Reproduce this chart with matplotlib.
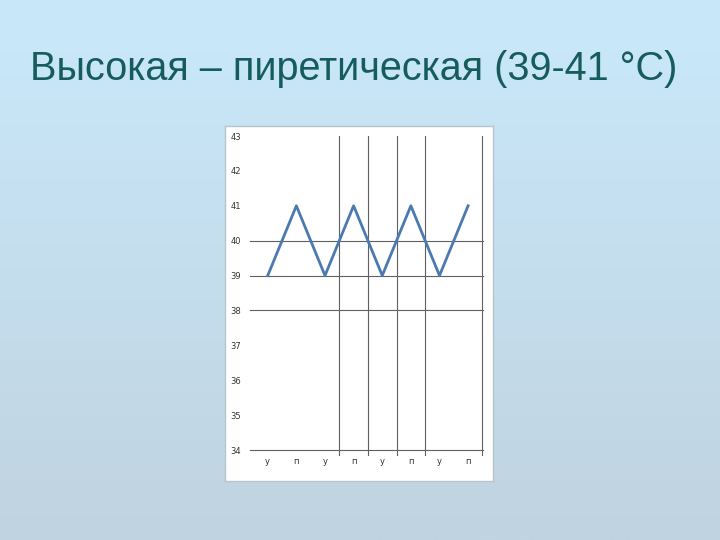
import numpy as np
import matplotlib.pyplot as plt
from matplotlib.colors import LinearSegmentedColormap

# data
days = ['у', 'п', 'у', 'п', 'у', 'п', 'у', 'п']
temps = [39, 41, 39, 41, 39, 41, 39, 41]
y_ticks = [34, 35, 36, 37, 38, 39, 40, 41, 42, 43]
h_grid = [34, 38, 39, 40]
v_grid = [2.5, 3.5, 4.5, 5.5, 7.5]
title = 'Высокая – пиретическая (39-41 °C)'

fig = plt.figure(figsize=(7.2, 5.4), dpi=100)

# slide background gradient
bg = fig.add_axes([0, 0, 1, 1])
cmap = LinearSegmentedColormap.from_list('bg', ['#c0d3e0', '#c9e9fb'])
bg.imshow(np.linspace(0, 1, 256).reshape(-1, 1), aspect='auto', cmap=cmap,
          origin='lower', extent=[0, 1, 0, 1])
bg.axis('off')

fig.text(0.041, 0.872, title, fontsize=28.5, color='#175c5c',
         family=['Liberation Sans', 'DejaVu Sans'], va='center', ha='left')

# white chart panel
panel = fig.add_axes([225 / 720, 1 - 481 / 540, 268 / 720, 355 / 540])
panel.set_facecolor('white')
panel.set_xticks([])
panel.set_yticks([])
for s in panel.spines.values():
    s.set_color('#b8c4cc')
    s.set_linewidth(1)

ax = fig.add_axes([250 / 720, 1 - 450 / 540, 233 / 720, 314 / 540])
ax.set_facecolor('none')
x = np.arange(len(days))
ax.set_xlim(-0.62, 7.52)
ax.set_ylim(34, 43)
for v in h_grid:
    ax.axhline(v, color='#606060', lw=0.8, zorder=1, clip_on=False)
for v in v_grid:
    ax.plot([v, v], [33.85, 43], color='#606060', lw=0.8, zorder=1, clip_on=False)
ax.plot(x, temps, color='#4a7ab0', lw=2, zorder=3)
ax.set_yticks(y_ticks)
ax.set_xticks(x)
ax.set_xticklabels(days)
ax.tick_params(length=0, labelsize=6, colors='#333333', pad=5)
ax.tick_params(axis='y', pad=14)
for lbl in ax.get_yticklabels():
    lbl.set_horizontalalignment('left')
for s in ax.spines.values():
    s.set_visible(False)

plt.savefig('out.png', dpi=100)
